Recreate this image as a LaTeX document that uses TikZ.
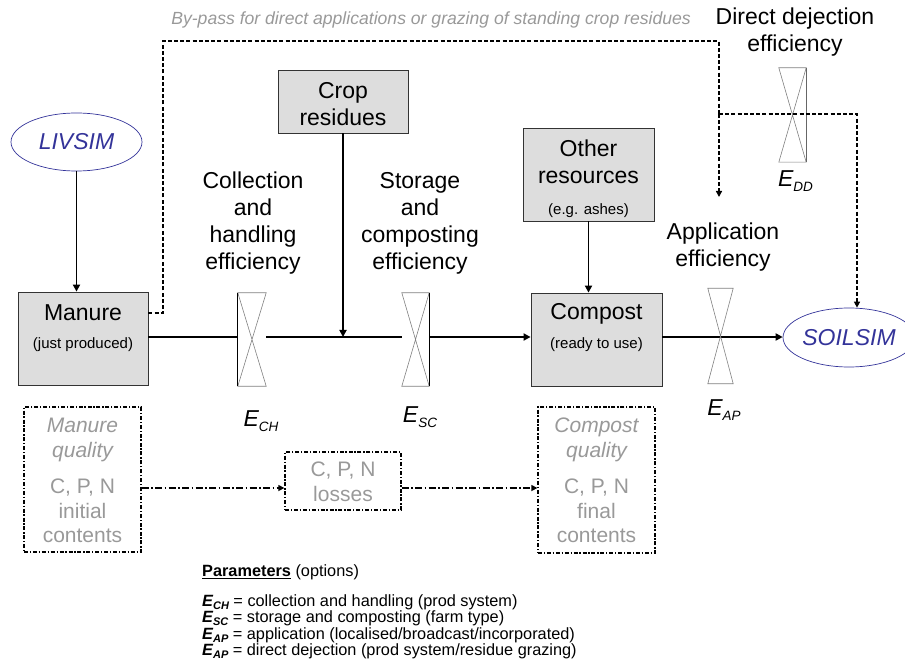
\documentclass[tikz,border=0pt]{standalone}
\usepackage{fontspec}
\setmainfont{Liberation Sans}
\usetikzlibrary{arrows.meta,shapes.geometric}

\definecolor{boxfill}{HTML}{DDDDDD}
\definecolor{simblue}{HTML}{333399}
\definecolor{qualgray}{HTML}{999999}
\definecolor{valvegray}{HTML}{808080}

\newcommand\bigfont{\fontsize{23}{27}\selectfont}
\newcommand\qualfont{\fontsize{21}{24.5}\selectfont}
\newcommand\midfont{\fontsize{15}{18}\selectfont}
\newcommand\parfont{\fontsize{16.3}{16.5}\selectfont}
\newcommand\Eff[1]{\textit{E\raisebox{-0.4ex}{\fontsize{13.5}{13.5}\selectfont #1}}}
\newcommand\ParE[1]{\textbf{\textit{E\raisebox{-0.35ex}{\fontsize{11}{11}\selectfont #1}}}}

\tikzset{
  grbox/.style={draw=black!80, line width=0.8pt, fill=boxfill, inner sep=0pt},
  qualbox/.style={draw=black, line width=1.3pt, dash pattern=on 4pt off 1.8pt on 1.3pt off 1.8pt, inner sep=0pt},
  valvebox/.style={inner sep=0pt, draw=none},
  valveline/.style={draw=valvegray, line width=0.6pt},
  sim/.style={ellipse, draw=simblue, line width=0.7pt, inner sep=0pt, font=\bigfont\itshape, text=simblue},
  flow/.style={line width=1.8pt},
  flowarrow/.style={line width=1.8pt, -{Triangle[length=7pt,width=7pt]}},
  bypass/.style={line width=1.4pt, dash pattern=on 4pt off 2.2pt},
  bypassarrow/.style={bypass, -{Triangle[length=6pt,width=6pt]}},
  qualarrow/.style={line width=1.4pt, dash pattern=on 7pt off 2.5pt on 1.5pt off 2.5pt, -{Triangle[length=6pt,width=6pt]}},
  label/.style={font=\bigfont, align=center, inner sep=0pt},
  qtext/.style={font=\qualfont, text=qualgray, align=center, inner sep=0pt},
  ptext/.style={font=\parfont, anchor=west, inner sep=0pt},
}

\begin{document}
\begin{tikzpicture}[x=1pt, y=-1pt]
\useasboundingbox (0,0) rectangle (905,668);

% simulation models
\node[sim, minimum width=131, minimum height=58] (liv) at (76.5,142) {LIVSIM};
\node[sim, minimum width=131, minimum height=59] (soil) at (849,337.5) {SOILSIM};

% resource boxes
\node[grbox, minimum width=130, minimum height=93] (manure) at (83,338.5) {};
\node[label] (manuret) at (83,313) {Manure};
\node[label, font=\midfont] (manures) at (83,345) {(just produced)};

\node[grbox, minimum width=131, minimum height=93] (compost) at (596.5,339.5) {};
\node[label] (compostt) at (596.5,314) {Compost};
\node[label, font=\midfont] (composts) at (596.5,345) {(ready to use)};

\node[grbox, minimum width=130, minimum height=63] (crop) at (343,101.5) {};
\node[label] (cropt) at (343,104) {Crop\\residues};

\node[grbox, minimum width=131, minimum height=93] (other) at (588.5,174.5) {};
\node[label] (othert) at (588.5,162) {Other\\resources};
\node[label, font=\midfont] (others) at (588.5,211) {(e.g. ashes)};

% efficiency valves
\node[valvebox, minimum width=28, minimum height=93] (ech) at (252,339.5) {};
\node[valvebox, minimum width=27, minimum height=93] (esc) at (415.5,339.5) {};
\node[valvebox, minimum width=25, minimum height=95] (eap) at (720.5,336) {};
\node[valvebox, minimum width=27, minimum height=94] (edd) at (792.5,115) {};

\coordinate (mainy) at (0,337);
\coordinate (join) at (343,337);

% main flow
\draw[flowarrow] (liv.south) -- (liv.south |- manure.north);
\draw[flow] (manure.east |- mainy) -- (ech.west |- mainy);
\draw[flow] (ech.east |- mainy) -- (esc.west |- mainy);
\draw[flowarrow] (crop.south -| join) -- (join);
\draw[flowarrow] (esc.east |- mainy) -- (compost.west |- mainy);
\draw[flowarrow] (other.south) -- (other.south |- compost.north);
\draw[flowarrow] (compost.east |- mainy) -- (soil.west |- mainy);

% valve symbols
\foreach \v in {ech,esc,eap,edd}{
  \draw[valveline] (\v.north west) -- (\v.north east) -- (\v.south west) -- (\v.south east) -- cycle;
}
\draw[line width=1.2pt] (ech.north west) -- (ech.south west);
\draw[line width=1.2pt] (esc.north east) -- (esc.south east);
\draw[valveline, draw=black!60] (edd.north east) -- (edd.south east);

% by-pass routes
\coordinate (bpstart) at (148,313);
\coordinate (bpc1) at (163,313);
\coordinate (bpc2) at (163,41);
\coordinate (bpc3) at (719,41);
\coordinate (bpend) at (719,197);
\coordinate (ddsplit) at (719,114);
\coordinate (ddc) at (857,114);
\draw[bypass] (manure.east |- bpstart) -- (bpc1) -- (bpc2) -- (bpc3) -- (ddsplit);
\draw[bypassarrow] (ddsplit) -- (bpend);
\draw[bypassarrow] (ddsplit) -- (ddc) -- (ddc |- soil.north);

% efficiency labels
\node[label] (lch) at (253,223.5) {Collection\\and\\handling\\efficiency};
\node[label] (lsc) at (420,223.5) {Storage\\and\\composting\\efficiency};
\node[label] (lap) at (723,247.5) {Application\\efficiency};
\node[label] (ldd) at (795,32.5) {Direct dejection\\efficiency};
\node[label] (ech-l) at (261,421) {\Eff{CH}};
\node[label] (esc-l) at (420,417) {\Eff{SC}};
\node[label] (eap-l) at (724,410) {\Eff{AP}};
\node[label] (edd-l) at (795.5,181) {\Eff{DD}};
\node[font=\fontsize{17.6}{20}\selectfont\itshape, text=qualgray, anchor=east, inner sep=0pt] (bptext) at (691,20)
  {By-pass for direct applications or grazing of standing crop residues};

% quality tracking
\node[qualbox, minimum width=117, minimum height=145] (mq) at (82.5,479.5) {};
\node[qtext] (mqt) at (82.5,440) {\itshape Manure\\\itshape quality};
\node[qtext] (mqc) at (82.5,511) {C, P, N\\initial\\contents};

\node[qualbox, minimum width=116, minimum height=58] (loss) at (343,481) {};
\node[qtext] (losst) at (343,482) {C, P, N\\losses};

\node[qualbox, minimum width=117, minimum height=146] (cq) at (596.5,480) {};
\node[qtext] (cqt) at (596.5,440) {\itshape Compost\\\itshape quality};
\node[qtext] (cqc) at (596.5,511) {C, P, N\\final\\contents};

\coordinate (qy) at (0,488);
\draw[qualarrow] (mq.east |- qy) -- (loss.west |- qy);
\draw[qualarrow] (loss.east |- qy) -- (cq.west |- qy);

% parameter legend
\node[ptext] (p0) at (202,572) {\underline{\textbf{Parameters}} (options)};
\node[ptext] (p1) at (202,602) {\ParE{CH} = collection and handling (prod system)};
\node[ptext] (p2) at (202,618.5) {\ParE{SC} = storage and composting (farm type)};
\node[ptext] (p3) at (202,635) {\ParE{AP} = application (localised/broadcast/incorporated)};
\node[ptext] (p4) at (202,651.5) {\ParE{AP} = direct dejection (prod system/residue grazing)};
\end{tikzpicture}
\end{document}
